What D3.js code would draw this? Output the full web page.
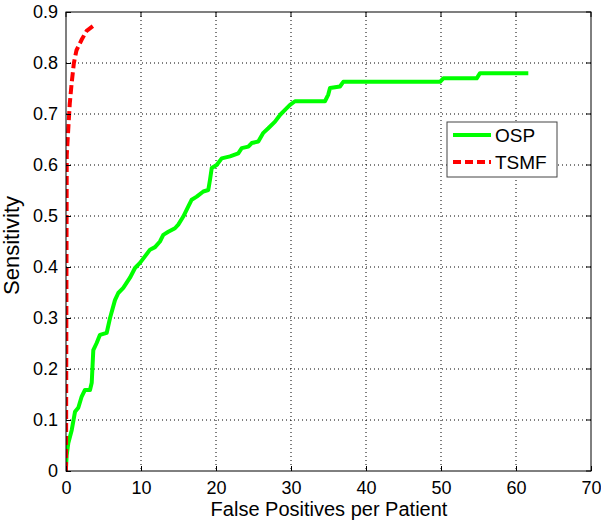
<!DOCTYPE html>
<html>
<head>
<meta charset="utf-8">
<script src="https://cdn.jsdelivr.net/npm/d3@7"></script>
<style>
body{margin:0;background:#fff;}
text{font-family:"Liberation Sans",Arial,sans-serif;fill:#000;}
</style>
</head>
<body>
<svg id="chart" width="601" height="526"></svg>
<script>
const xTicks=[0,10,20,30,40,50,60,70];
const yTicks=[0,0.1,0.2,0.3,0.4,0.5,0.6,0.7,0.8,0.9];
const yTickLabels=["0","0.1","0.2","0.3","0.4","0.5","0.6","0.7","0.8","0.9"];
const seriesNames=["OSP","TSMF"];
const ospX=[0,0.09,0.31,0.76,1.2,1.64,2.09,2.53,3.2,3.43,3.64,4.09,4.53,5.43,5.87,6.53,6.97,7.64,8.53,9.2,9.87,11.2,11.87,12.53,12.97,13.64,14.53,14.97,15.64,16.31,16.76,17.43,18.31,18.97,19.2,19.43,20.09,20.76,21.87,22.97,23.43,24.31,24.76,25.64,26.31,26.97,27.87,28.53,29.2,29.87,30.53,34.53,34.97,35.2,36.53,36.97,49.87,50.31,54.76,55.2,61.64];
const ospY=[0.006,0.031,0.055,0.08,0.116,0.124,0.146,0.159,0.159,0.173,0.237,0.251,0.267,0.271,0.3,0.335,0.349,0.359,0.379,0.398,0.408,0.434,0.439,0.45,0.463,0.469,0.476,0.483,0.499,0.519,0.532,0.538,0.548,0.551,0.571,0.594,0.6,0.613,0.617,0.623,0.633,0.636,0.643,0.646,0.663,0.672,0.685,0.698,0.708,0.718,0.725,0.725,0.738,0.751,0.754,0.763,0.763,0.77,0.77,0.78,0.78];
const tsmfX=[0,0.02,0.05,0.08,0.1,0.3,0.5,0.75,1.05,1.4,2.1,2.75,3.65];
const tsmfY=[0,0.1,0.3,0.5,0.62,0.67,0.72,0.76,0.8,0.825,0.846,0.863,0.873];

const svg=d3.select("#chart");
const L=66,R=591,T=12,B=471;
const x=d3.scaleLinear().domain([0,70]).range([L,R]);
const y=d3.scaleLinear().domain([0,0.9]).range([B,T]);

// grid
const g=svg.append("g");
g.selectAll(".gx").data(xTicks.slice(1,-1)).join("line")
 .attr("x1",d=>x(d)).attr("x2",d=>x(d)).attr("y1",T).attr("y2",B)
 .attr("stroke","#000").attr("stroke-width",1).attr("stroke-dasharray","1,3");
g.selectAll(".gy").data(yTicks.slice(1,-1)).join("line")
 .attr("y1",d=>y(d)).attr("y2",d=>y(d)).attr("x1",L).attr("x2",R)
 .attr("stroke","#000").attr("stroke-width",1).attr("stroke-dasharray","1,3");

svg.append("defs").append("clipPath").attr("id","clip").append("rect")
 .attr("x",L).attr("y",T-4).attr("width",R-L).attr("height",B-T+4);

const line=d3.line().x(d=>x(d[0])).y(d=>y(d[1]));
const osp=ospX.map((v,i)=>[v,ospY[i]]);
const tsmf=tsmfX.map((v,i)=>[v,tsmfY[i]]);
const lines=svg.append("g").attr("clip-path","url(#clip)");
lines.append("path").datum(osp).attr("d",line).attr("fill","none")
 .attr("stroke","#00ff00").attr("stroke-width",4).attr("stroke-linejoin","round");
lines.append("path").datum(tsmf).attr("d",line).attr("fill","none")
 .attr("stroke","#ff0000").attr("stroke-width",4).attr("stroke-dasharray","9,4");

// axes
const xa=svg.append("g").attr("transform",`translate(0,${B})`)
 .call(d3.axisBottom(x).tickValues(xTicks).tickSize(-5).tickPadding(10).tickFormat(d3.format("d")));
const ya=svg.append("g").attr("transform",`translate(${L},0)`)
 .call(d3.axisLeft(y).tickValues(yTicks).tickSize(-5).tickPadding(8).tickFormat((d,i)=>yTickLabels[i]));
[xa,ya].forEach(a=>{
 a.select(".domain").remove();
 a.selectAll("line").attr("stroke","#000");
 a.selectAll("text").attr("font-size",18).attr("font-family","Liberation Sans, Arial, sans-serif").attr("fill","#000");
});
// top/right ticks
svg.append("g").selectAll("line").data(xTicks).join("line")
 .attr("x1",d=>x(d)).attr("x2",d=>x(d)).attr("y1",T).attr("y2",T+5).attr("stroke","#000");
svg.append("g").selectAll("line").data(yTicks).join("line")
 .attr("y1",d=>y(d)).attr("y2",d=>y(d)).attr("x1",R).attr("x2",R-5).attr("stroke","#000");
// box
svg.append("rect").attr("x",L).attr("y",T).attr("width",R-L).attr("height",B-T)
 .attr("fill","none").attr("stroke","#000").attr("stroke-width",1);

// titles
svg.append("text").attr("x",329).attr("y",516).attr("text-anchor","middle")
 .attr("font-size",20).text("False Positives per Patient");
svg.append("text").attr("transform",`translate(19,${(T+B)/2+4}) rotate(-90)`).attr("text-anchor","middle")
 .attr("font-size",22).text("Sensitivity");

// legend
const lg=svg.append("g");
lg.append("rect").attr("x",447).attr("y",122).attr("width",110).attr("height",55)
 .attr("fill","#fff").attr("stroke","#444").attr("stroke-width",1);
const styles=[{c:"#00ff00",d:null},{c:"#ff0000",d:"8,4"}];
seriesNames.forEach((n,i)=>{
 const yy=135+i*27;
 lg.append("line").attr("x1",453).attr("x2",491).attr("y1",yy).attr("y2",yy)
  .attr("stroke",styles[i].c).attr("stroke-width",4).attr("stroke-dasharray",styles[i].d);
 lg.append("text").attr("x",495).attr("y",yy+7).attr("font-size",19).text(n);
});
</script>
</body>
</html>
